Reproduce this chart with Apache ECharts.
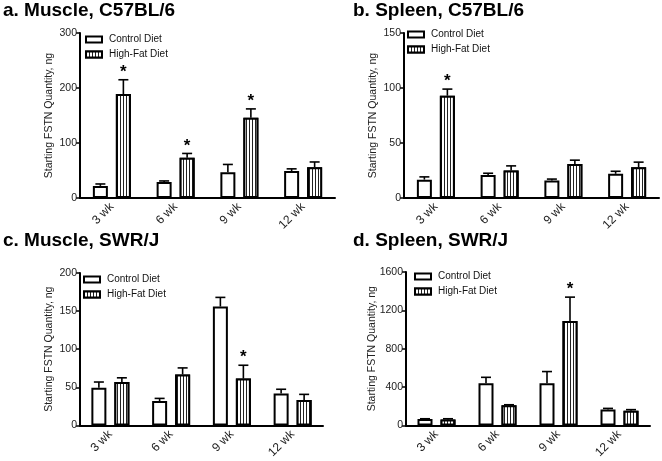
<!DOCTYPE html>
<html>
<head>
<meta charset="utf-8">
<script src="https://cdn.jsdelivr.net/npm/echarts@6/dist/echarts.min.js"></script>
<style>
html,body{margin:0;padding:0;background:#fff;}
#chart{width:662px;height:461px;}
</style>
</head>
<body>
<div id="chart"></div>
<script>
// ---- data ----
const categories = ['3 wk', '6 wk', '9 wk', '12 wk'];
const seriesNames = ['Control Diet', 'High-Fat Diet'];
const panelTitles = ['a. Muscle, C57BL/6', 'b. Spleen, C57BL/6', 'c. Muscle, SWR/J', 'd. Spleen, SWR/J'];
const yAxisName = 'Starting FSTN Quantity, ng';

const aControl = [22, 29, 47, 49];
const aControlErr = [3.5, 2, 14, 4];
const aHighFat = [189, 73, 146, 56];
const aHighFatErr = [26, 8, 16, 9.5];
const aSig = [1, 1, 1, 0];
const aTicks = [0, 100, 200, 300];

const bControl = [16.7, 21, 16, 22];
const bControlErr = [2.5, 1.5, 1.2, 2.3];
const bHighFat = [93, 25, 31, 28];
const bHighFatErr = [6, 4.2, 3.4, 4.6];
const bSig = [1, 0, 0, 0];
const bTicks = [0, 50, 100, 150];

const cControl = [49.5, 32, 156, 42];
const cControlErr = [7.5, 3.5, 12, 5.5];
const cHighFat = [57, 67, 61.5, 33.5];
const cHighFatErr = [5.5, 8.5, 17.5, 7.3];
const cSig = [0, 0, 1, 0];
const cTicks = [0, 50, 100, 150, 200];

const dControl = [67, 440, 440, 166];
const dControlErr = [3, 62, 122, 12];
const dHighFat = [61, 210, 1090, 153];
const dHighFatErr = [9, 6, 248, 12];
const dSig = [0, 0, 1, 0];
const dTicks = [0, 400, 800, 1200, 1600];

// ---- layout ----
const FONT = '"Liberation Sans", Arial, sans-serif';
const panels = [
  {title: panelTitles[0], tl: 3, tt: 1, grid: {left: 80, top: 33, width: 255, height: 165}, leg: {left: 85, top: 34}, ng: 25,
   ctrl: aControl, ctrlErr: aControlErr, hf: aHighFat, hfErr: aHighFatErr, sig: aSig, ticks: aTicks},
  {title: panelTitles[1], tl: 353, tt: 1, grid: {left: 404, top: 33, width: 255, height: 165}, leg: {left: 407, top: 29}, ng: 25,
   ctrl: bControl, ctrlErr: bControlErr, hf: bHighFat, hfErr: bHighFatErr, sig: bSig, ticks: bTicks},
  {title: panelTitles[2], tl: 3, tt: 231, grid: {left: 80, top: 273, width: 243, height: 155}, leg: {left: 83, top: 274}, ng: 25,
   ctrl: cControl, ctrlErr: cControlErr, hf: cHighFat, hfErr: cHighFatErr, sig: cSig, ticks: cTicks},
  {title: panelTitles[3], tl: 353, tt: 231, grid: {left: 406, top: 272, width: 244, height: 157}, leg: {left: 414, top: 271}, ng: 28,
   ctrl: dControl, ctrlErr: dControlErr, hf: dHighFat, hfErr: dHighFatErr, sig: dSig, ticks: dTicks}
];

const BAR_W = 15;
const BAR_GAP = 8;
const OFFSET = (BAR_W + BAR_GAP) / 2;

const stripeDecal = {
  symbol: 'rect', symbolSize: 1, color: '#222', backgroundColor: '#fff',
  dashArrayX: [1, 2], dashArrayY: [5, 0], rotation: 0
};

function errRender(offset) {
  return function (params, api) {
    const i = api.value(0), v = api.value(1), e = api.value(2), s = api.value(3);
    const p0 = api.coord([i, v]);
    const p1 = api.coord([i, v + e]);
    const x = p0[0] + offset;
    const children = [
      {type: 'line', shape: {x1: x, y1: p0[1], x2: x, y2: p1[1]}, style: {stroke: '#000', lineWidth: 1.6}},
      {type: 'line', shape: {x1: x - 5, y1: p1[1], x2: x + 5, y2: p1[1]}, style: {stroke: '#000', lineWidth: 1.6}}
    ];
    if (s) {
      children.push({type: 'text', x: x, y: p1[1] - 16,
        style: {text: '*', font: 'bold 17px ' + FONT, textAlign: 'center', textVerticalAlign: 'top', fill: '#000'}});
    }
    return {type: 'group', children: children};
  };
}

const option = {
  animation: false,
  backgroundColor: '#fff',
  title: [], grid: [], xAxis: [], yAxis: [], legend: [], series: []
};

panels.forEach((p, k) => {
  const ticks = p.ticks;
  option.title.push({text: p.title, left: p.tl, top: p.tt, padding: 0,
    textStyle: {fontFamily: FONT, fontSize: 19, fontWeight: 'bold', color: '#000'}});
  option.grid.push(Object.assign({containLabel: false}, p.grid));
  option.xAxis.push({
    type: 'category', gridIndex: k, data: categories,
    axisLine: {lineStyle: {color: '#000', width: 2}},
    axisTick: {alignWithLabel: true, length: 5, lineStyle: {color: '#000', width: 1.5}},
    axisLabel: {rotate: 45, margin: 7, fontFamily: FONT, fontSize: 12, color: '#222'},
    splitLine: {show: false}
  });
  option.yAxis.push({
    type: 'value', gridIndex: k, min: ticks[0], max: ticks[ticks.length - 1],
    interval: ticks[1] - ticks[0],
    name: yAxisName, nameLocation: 'middle', nameGap: p.ng, nameMoveOverlap: false,
    nameTextStyle: {fontFamily: FONT, fontSize: 10.5, color: '#222'},
    axisLine: {show: true, lineStyle: {color: '#000', width: 2}},
    axisTick: {show: true, length: 4, lineStyle: {color: '#000', width: 1.5}},
    axisLabel: {margin: 3, fontFamily: FONT, fontSize: 10.5, color: '#222', formatter: v => String(v)},
    splitLine: {show: false}
  });
  option.legend.push({
    orient: 'vertical', left: p.leg.left, top: p.leg.top, padding: 0,
    itemWidth: 16, itemHeight: 6, itemGap: 4, icon: 'rect',
    data: seriesNames, selectedMode: false,
    itemStyle: {borderColor: '#000', borderWidth: 2},
    textStyle: {fontFamily: FONT, fontSize: 10, color: '#111', lineHeight: 11, padding: [0, 0, 0, 2]}
  });
  option.series.push({
    type: 'bar', name: seriesNames[0], xAxisIndex: k, yAxisIndex: k, data: p.ctrl,
    barWidth: BAR_W, barGap: (BAR_GAP / BAR_W * 100) + '%',
    itemStyle: {color: '#fff', borderColor: '#000', borderWidth: 2}
  });
  option.series.push({
    type: 'bar', name: seriesNames[1], xAxisIndex: k, yAxisIndex: k, data: p.hf,
    barWidth: BAR_W, barGap: (BAR_GAP / BAR_W * 100) + '%',
    itemStyle: {color: '#fff', borderColor: '#000', borderWidth: 2, decal: stripeDecal}
  });
  option.series.push({
    type: 'custom', xAxisIndex: k, yAxisIndex: k, renderItem: errRender(-OFFSET),
    encode: {x: 0, y: 1}, z: 3,
    data: categories.map((c, i) => [i, p.ctrl[i], p.ctrlErr[i], 0])
  });
  option.series.push({
    type: 'custom', xAxisIndex: k, yAxisIndex: k, renderItem: errRender(OFFSET),
    encode: {x: 0, y: 1}, z: 3,
    data: categories.map((c, i) => [i, p.hf[i], p.hfErr[i], p.sig[i]])
  });
});

const chart = echarts.init(document.getElementById('chart'), null, {renderer: 'canvas'});
chart.setOption(option);
</script>
</body>
</html>
